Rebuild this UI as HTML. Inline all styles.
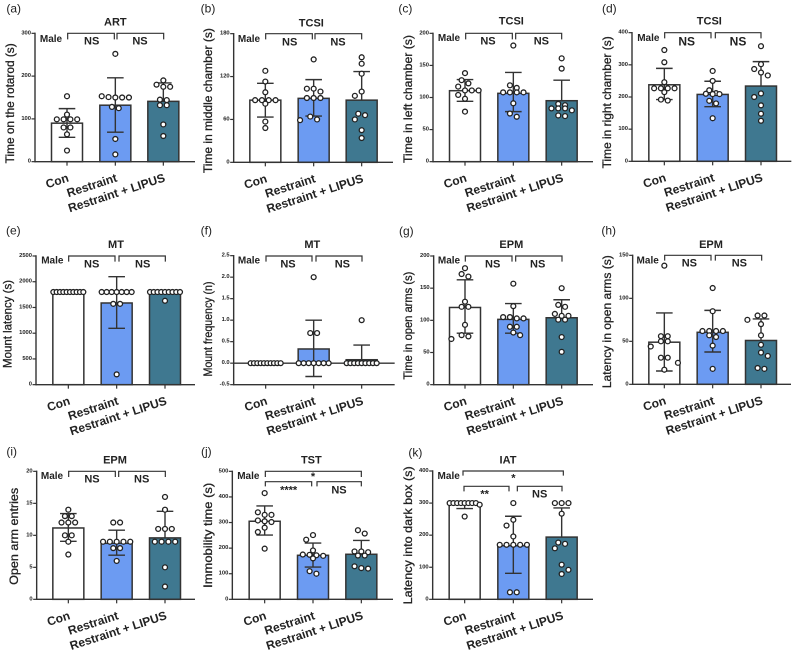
<!DOCTYPE html>
<html lang="en">
<head>
<meta charset="utf-8">
<title>Behavioural test bar charts</title>
<style>
html,body{margin:0;padding:0;background:#fff;}
svg{display:block;font-family:"Liberation Sans",Arial,sans-serif;}
</style>
</head>
<body>
<svg id="figure" width="796" height="653" viewBox="0 0 796 653" xmlns="http://www.w3.org/2000/svg"></svg>
<script>
const categories = ['Con', 'Restraint', 'Restraint + LIPUS'];

const aTicks = [0, 100, 200, 300];
const aMeans = [90, 132, 141];
const aUpper = [124, 196, 184];
const aLower = [57, 69, null];
const aCon = [153, 110, 99, 99, 99, 99, 80, 80, 64, 26];
const aRes = [252, 153, 151, 150, 150, 150, 128, 125, 53, 17];
const aLip = [190, 180, 175, 175, 145, 144, 132, 132, 87, 60];

const bTicks = [0, 60, 120, 180];
const bMeans = [87, 89.5, 87];
const bUpper = [110.5, 115.7, 127];
const bLower = [63.4, 64.8, null];
const bCon = [128, 113, 98, 87, 87, 87, 87, 82, 57, 48];
const bRes = [144, 103, 103, 99, 90, 90, 90, 64, 60, 59];
const bLip = [147, 138, 124, 99, 93, 68, 66, 60, 45, 34];

const cTicks = [0, 50, 100, 150, 200];
const cMeans = [110.6, 106.5, 95];
const cUpper = [128, 139, 127];
const cLower = [94, 78, null];
const cCon = [138, 127, 122, 117, 111, 111, 111, 104, 98, 78];
const cRes = [181, 119, 115, 108, 108, 108, 108, 91, 75, 70];
const cLip = [161, 145, 90, 88, 83, 83, 83, 80, 72, 71];

const dTicks = [0, 100, 200, 300, 400];
const dMeans = [238, 208, 234];
const dUpper = [289, 249, 310];
const dLower = [192, 170, null];
const dCon = [346, 308, 246, 227, 227, 227, 227, 215, 192, 189];
const dRes = [281, 250, 221, 212, 210, 209, 209, 188, 180, 134];
const dLip = [358, 302, 287, 276, 267, 211, 200, 174, 148, 126];

const eTicks = [0, 500, 1000, 1500, 2000, 2500];
const eMeans = [1800, 1587, 1786];
const eUpper = [1800, 2098, 1800];
const eLower = [1800, 1095, null];
const eCon = [1800, 1800, 1800, 1800, 1800, 1800, 1800, 1800, 1800, 1800];
const eRes = [1800, 1800, 1800, 1800, 1800, 1800, 1800, 1570, 1570, 200];
const eLip = [1800, 1800, 1800, 1800, 1800, 1800, 1800, 1800, 1800, 1630];

const fTicks = [-0.5, 0, 0.5, 1, 1.5, 2, 2.5];
const fMeans = [0, 0.33, 0.08];
const fUpper = [0, 1, 0.42];
const fLower = [0, -0.31, null];
const fCon = [0, 0, 0, 0, 0, 0, 0, 0, 0, 0];
const fRes = [2, 0.7, 0.7, 0, 0, 0, 0, 0, 0, 0];
const fLip = [1, 0, 0, 0, 0, 0, 0, 0, 0, 0];

const gTicks = [0, 50, 100, 150, 200];
const gMeans = [120, 101.5, 104];
const gUpper = [163, 126, 132];
const gLower = [80, 80, null];
const gCon = [181, 172, 168, 129, 121, 121, 93, 77, 75, 71];
const gRes = [157, 122, 105, 105, 103, 103, 90, 90, 81, 77];
const gLip = [150, 124, 121, 110, 107, 107, 101, 101, 74, 51];

const hTicks = [0, 50, 100, 150];
const hMeans = [49, 60.5, 51];
const hUpper = [83, 86, 76];
const hLower = [15.5, 37.6, null];
const hCon = [138, 56, 56, 50, 50, 44, 31, 31, 25, 17];
const hRes = [112, 85, 62, 62, 62, 62, 57, 55, 45, 18];
const hLip = [80, 80, 75, 70, 57, 46, 37, 33, 19, 18];

const iTicks = [0, 5, 10, 15, 20];
const iMeans = [11.15, 8.75, 9.6];
const iUpper = [13.4, 10.8, 13.75];
const iLower = [9.06, 6.9, null];
const iCon = [14, 13, 13, 12, 12, 12, 10, 10, 9, 7];
const iRes = [12, 12, 9, 9, 9, 9, 9, 8, 8, 6];
const iLip = [16, 14, 11, 11, 11, 9, 9, 9, 9, 5, 2];

const jTicks = [0, 100, 200, 300, 400, 500];
const jMeans = [305, 172, 176];
const jUpper = [365, 220, 230];
const jLower = [251, 126, null];
const jCon = [415, 340, 330, 330, 308, 305, 302, 280, 263, 198];
const jRes = [251, 233, 191, 175, 174, 172, 170, 160, 110, 100];
const jLip = [270, 257, 187, 187, 184, 171, 171, 129, 122, 120];

const kTicks = [0, 100, 200, 300, 400];
const kMeans = [298, 167, 194];
const kUpper = [305, 259, 285];
const kLower = [283, 81, null];
const kCon = [300, 300, 300, 300, 300, 300, 300, 300, 295, 258];
const kRes = [300, 248, 230, 196, 170, 170, 170, 170, 170, 22, 22];
const kLip = [300, 300, 300, 267, 177, 173, 159, 108, 92, 79];

const NS = 'NS';
const panels = [
 {id:'a',letter:'(a)',title:'ART',ylabel:'Time on the rotarod (s)',ticks:aTicks,means:aMeans,upper:aUpper,lower:aLower,groups:[aCon,aRes,aLip],
  ox:0,oy:0,axisX:105,y0:485,top:100,end:585,cats:[201,346,490],yl:[30,310,120],lp:[41,25],
  male:[153,118],ttl:[346,67],brackets:[[203,343,100,118],[351,491,100,118]],marks:[[NS,275,125],[NS,420,125]]},
 {id:'b',letter:'(b)',title:'TCSI',ylabel:'Time in middle chamber (s)',ticks:bTicks,means:bMeans,upper:bUpper,lower:bLower,groups:[bCon,bRes,bLip],
  ox:198,oy:0,axisX:107,y0:487,top:101,end:585,cats:[202,347,491],yl:[30,302,145],lp:[30,25],
  male:[153,118],ttl:[340,70],brackets:[[203,343,101,118],[351,491,101,118]],marks:[[NS,275,127],[NS,420,127]]},
 {id:'c',letter:'(c)',title:'TCSI',ylabel:'Time in left chamber (s)',ticks:cTicks,means:cMeans,upper:cUpper,lower:cLower,groups:[cCon,cRes,cLip],
  ox:398,oy:0,axisX:105,y0:485,top:100,end:585,cats:[201,346,491],yl:[30,297,128],lp:[22,25],
  male:[153,115],ttl:[340,65],brackets:[[203,343,100,118],[353,491,100,118]],marks:[[NS,270,125],[NS,430,125]]},
 {id:'d',letter:'(d)',title:'TCSI',ylabel:'Time in right chamber (s)',ticks:dTicks,means:dMeans,upper:dUpper,lower:dLower,groups:[dCon,dRes,dLip],
  ox:596,oy:0,axisX:108,y0:484,top:98,end:586,cats:[205,350,495],yl:[33,307,132],lp:[40,25],
  male:[157,115],ttl:[340,65],brackets:[[206,345,98,115],[358,495,98,115]],marks:[[NS,272,125,12],[NS,426,125,12]]},
 {id:'e',letter:'(e)',title:'MT',ylabel:'Mount latency (s)',ticks:eTicks,means:eMeans,upper:eUpper,lower:eLower,groups:[eCon,eRes,eLip],
  ox:0,oy:215,axisX:108,y0:509,top:123,end:585,cats:[205,350,495],yl:[22,327,88],lp:[40,47],
  male:[157,138],ttl:[348,90],brackets:[[206,345,123,140],[357,496,123,140]],marks:[[NS,275,148],[NS,428,148]]},
 {id:'f',letter:'(f)',title:'MT',ylabel:'Mount frequency (n)',ticks:fTicks,means:fMeans,upper:fUpper,lower:fLower,groups:[fCon,fRes,fLip],
  ox:198,oy:215,axisX:107,y0:509,top:122,end:590,cats:[203,347,491],yl:[30,342,95],lp:[25,47],
  male:[153,138],ttl:[343,90],brackets:[[204,342,123,140],[354,492,123,140]],marks:[[NS,270,148],[NS,433,148]]},
 {id:'g',letter:'(g)',title:'EPM',ylabel:'Time in open arms (s)',ticks:gTicks,means:gMeans,upper:gUpper,lower:gLower,groups:[gCon,gRes,gLip],
  ox:398,oy:215,axisX:107,y0:509,top:123,end:585,cats:[201,346,491],yl:[30,332,108],lp:[25,48],
  male:[153,138],ttl:[340,90],brackets:[[202,342,123,140],[353,492,123,140]],marks:[[NS,284,148],[NS,419,148]]},
 {id:'h',letter:'(h)',title:'EPM',ylabel:'Latency in open arms (s)',ticks:hTicks,means:hMeans,upper:hUpper,lower:hLower,groups:[hCon,hRes,hLip],
  ox:596,oy:215,axisX:110,y0:508,top:121,end:585,cats:[205,350,495],yl:[33,320,133],lp:[38,47],
  male:[155,138],ttl:[345,90],brackets:[[206,345,121,137],[358,497,121,137]],marks:[[NS,280,146],[NS,430,146]]},
 {id:'i',letter:'(i)',title:'EPM',ylabel:'Open arm entries',ticks:iTicks,means:iMeans,upper:iUpper,lower:iLower,groups:[iCon,iRes,iLip],
  ox:0,oy:433,axisX:110,y0:499,top:115,end:585,cats:[205,350,495],yl:[42,310,97],lp:[35,55],
  male:[156,131],ttl:[345,82],brackets:[[206,346,115,132],[356,496,115,132]],marks:[[NS,276,140],[NS,425,140]]},
 {id:'j',letter:'(j)',title:'TST',ylabel:'Immobility time (s)',ticks:jTicks,means:jMeans,upper:jUpper,lower:jLower,groups:[jCon,jRes,jLip],
  ox:198,oy:433,axisX:103,y0:499,top:115,end:585,cats:[200,345,490],yl:[30,307,105],lp:[25,55],
  male:[151,131],ttl:[340,83],brackets:[[202,490,115,132],[202,341,146,160],[357,490,146,160]],marks:[['*',345,132],['****',272,172],[NS,423,172]]},
 {id:'k',letter:'(k)',title:'IAT',ylabel:'Latency into dark box (s)',ticks:kTicks,means:kMeans,upper:kUpper,lower:kLower,groups:[kCon,kRes,kLip],
  ox:398,oy:433,axisX:104,y0:499,top:114,end:585,cats:[200,346,491],yl:[30,307,138],lp:[52,58],
  male:[152,130],ttl:[330,83],brackets:[[195,496,114,128],[198,333,160,175],[358,492,160,175]],marks:[['*',346,137],['**',260,185],[NS,425,184]]}
];

const svg = document.getElementById('figure');
const NSURI = 'http://www.w3.org/2000/svg';
const INK = '#333';
const FILLS = ['#ffffff', '#6c9bf2', '#3f7890'];
const GROUP_KEYS = ['con', 'restraint', 'restraint-lipus'];

function make(tag, parent, attrs, txt) {
  const n = document.createElementNS(NSURI, tag);
  for (const k in attrs) n.setAttribute(k, attrs[k]);
  if (txt !== undefined) n.textContent = txt;
  parent.appendChild(n);
  return n;
}

// Places dots of similar value side by side, symmetric about the bar centre;
// a dot that would overlap one already placed moves out to the next free slot.
function swarm(values, scale) {
  const sorted = values.slice().sort((p, q) => q - p);
  const clusters = [];
  sorted.forEach(v => {
    const last = clusters[clusters.length - 1];
    if (last && Math.abs(scale(v) - scale(last[0])) <= 3.4) last.push(v);
    else clusters.push([v]);
  });
  const out = [];
  let side = 1;
  const SLOT = 6.8;
  const collides = (v, dx) => out.some(o => Math.hypot(o.dx - dx, scale(o.v) - scale(v)) < 6.3);
  clusters.forEach(c => {
    const step = c.length > 1 ? Math.min(SLOT, 30 / (c.length - 1)) : 0;
    const base = c.map((v, i) => (i - (c.length - 1) / 2) * step);
    const shifts = c.length > 1 ? [0, step / 2, -step / 2, step, -step] : [0, -side * SLOT, side * SLOT, -side * 2 * SLOT, side * 2 * SLOT];
    let shift = shifts.find(s => c.every((v, i) => !collides(v, base[i] + s)));
    if (shift === undefined) shift = 0;
    if (shift !== 0) side = -side;
    c.forEach((v, i) => out.push({v: v, dx: base[i] + shift}));
  });
  return out;
}

panels.forEach(p => {
  const X = z => p.ox + z / 3;
  const Y = z => p.oy + z / 3;
  const g = make('g', svg, {});
  
  

  const lo = p.ticks[0], hi = p.ticks[p.ticks.length - 1];
  const yBottom = Y(p.y0), yTop = Y(p.top);
  const scale = v => yBottom - (v - lo) / (hi - lo) * (yBottom - yTop);
  const axisX = X(p.axisX), endX = X(p.end);
  const barW = 31;

  const letter = make('text', g, {x: X(p.lp[0]), y: Y(p.lp[1]), 'text-anchor': 'middle', 'dominant-baseline': 'central', 'font-size': 12, fill: '#222'}, p.letter);
  
  

  const title = make('text', g, {x: X(p.ttl[0]), y: Y(p.ttl[1]), 'text-anchor': 'middle', 'dominant-baseline': 'central', 'font-size': 11, 'font-weight': 'bold', fill: '#222'}, p.title);
  
  

  const male = make('text', g, {x: X(p.male[0]), y: Y(p.male[1]), 'text-anchor': 'middle', 'dominant-baseline': 'central', 'font-size': 10, 'font-weight': 'bold', fill: '#222'}, 'Male');
  
  

  const yx = X(p.yl[0]), yy = Y(p.yl[1]);
  const yt = make('text', g, {x: yx, y: yy, 'text-anchor': 'middle', 'dominant-baseline': 'central', 'font-size': 12, 'font-weight': 'normal', fill: '#222', stroke: '#222', 'stroke-width': 0.3, transform: 'rotate(-90 ' + yx + ' ' + yy + ')', textLength: p.yl[2], lengthAdjust: 'spacingAndGlyphs'}, p.ylabel);
  
  

  // bars
  const baseY = scale(Math.max(lo, 0));
  p.means.forEach((m, i) => {
    const cx = X(p.cats[i]);
    const t = Math.min(scale(m), baseY);
    const b = make('rect', g, {x: cx - barW / 2, y: t, width: barW, height: Math.abs(baseY - scale(m)), fill: FILLS[i], stroke: INK, 'stroke-width': 1.5});
    
    
  });

  // error bars
  p.means.forEach((m, i) => {
    const cx = X(p.cats[i]);
    const hiV = p.upper[i];
    const loV = p.lower[i] === null ? m : p.lower[i];
    const parts = [['M', cx, scale(hiV), 'L', cx, scale(loV)], ['M', cx - 8.3, scale(hiV), 'L', cx + 8.3, scale(hiV)]];
    if (p.lower[i] !== null) parts.push(['M', cx - 8.3, scale(loV), 'L', cx + 8.3, scale(loV)]);
    const e = make('path', g, {d: parts.map(s => s.join(' ')).join(' '), fill: 'none', stroke: INK, 'stroke-width': 1.4});
    
    
  });

  // axes
  const yAxis = make('line', g, {x1: axisX, x2: axisX, y1: yTop - 0.7, y2: yBottom + 0.7, stroke: INK, 'stroke-width': 1.4});
  
  
  const xAxis = make('line', g, {x1: axisX, x2: endX, y1: yBottom, y2: yBottom, stroke: INK, 'stroke-width': 1.4});
  
  
  if (lo < 0) {
    const zero = make('line', g, {x1: axisX, x2: endX, y1: scale(0), y2: scale(0), stroke: INK, 'stroke-width': 1.4});
    
    
  }

  p.ticks.forEach(t => {
    const ty = scale(t);
    const tk = make('line', g, {x1: axisX - 3.5, x2: axisX, y1: ty, y2: ty, stroke: INK, 'stroke-width': 1.2});
    
    
    const lab = lo < 0 ? t.toFixed(1) : String(t);
    const tl = make('text', g, {x: axisX - 4, y: ty, 'text-anchor': 'end', 'dominant-baseline': 'central', 'font-size': 5.8, 'font-weight': 'bold', fill: '#222'}, lab);
    
    
  });

  categories.forEach((c, i) => {
    const cx = X(p.cats[i]);
    const tk = make('line', g, {x1: cx, x2: cx, y1: yBottom, y2: yBottom + 4, stroke: INK, 'stroke-width': 1.2});
    
    
    const ax = cx + 2.5, ay = yBottom + 19.5;
    const tl = make('text', g, {x: ax, y: ay, 'text-anchor': 'end', 'font-size': 12, 'font-weight': 'bold', fill: '#222', transform: 'rotate(-18 ' + ax + ' ' + ay + ')'}, c);
    
    
  });

  // significance brackets
  p.brackets.forEach(b => {
    const d = 'M ' + X(b[0]) + ' ' + Y(b[3]) + ' V ' + Y(b[2]) + ' H ' + X(b[1]) + ' V ' + Y(b[3]);
    const br = make('path', g, {d: d, fill: 'none', stroke: INK, 'stroke-width': 1.2});
    
    
  });
  p.marks.forEach(m => {
    const star = m[0] !== NS;
    const size = m[3] || 11;
    const mk = make('text', g, {x: X(m[1]), y: Y(m[2]), 'text-anchor': 'middle', 'dominant-baseline': 'central', 'font-size': size, 'font-weight': 'bold', fill: '#222'}, m[0]);
    
    
  });

  // individual data points
  p.groups.forEach((vals, i) => {
    const cx = X(p.cats[i]);
    swarm(vals, scale).forEach(pt => {
      const dot = make('circle', g, {cx: cx + pt.dx, cy: scale(pt.v), r: 2.45, fill: '#fff', stroke: '#222', 'stroke-width': 1.3});
      
      
    });
  });
});
</script>
</body>
</html>
